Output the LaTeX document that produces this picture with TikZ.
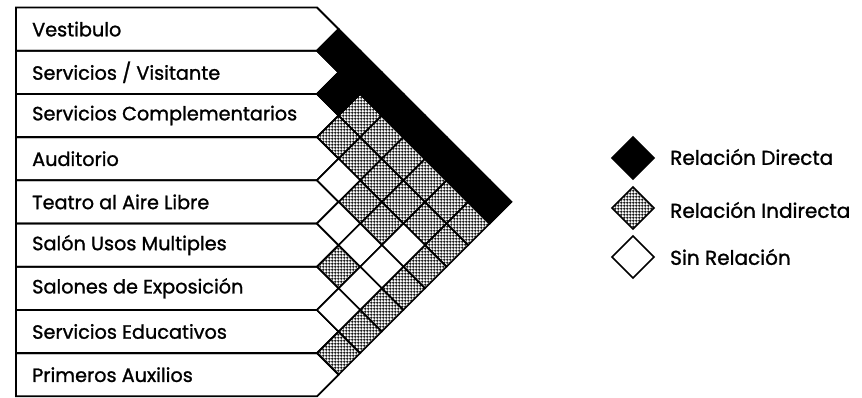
\documentclass[tikz,border=0pt]{standalone}
\usepackage{fontspec}
\setmainfont{Poppins}
\newfontfamily\dfont{Poppins}[FakeBold=1.2]
\usetikzlibrary{patterns.meta}
\tikzdeclarepattern{
  name=mygrid,
  type=uncolored,
  bounding box={(0,0) and (3.2pt,3.2pt)},
  tile size={(3.2pt,3.2pt)},
  code={
    \draw[line width=1pt] (0,1.6pt) -- (3.2pt,1.6pt) (1.6pt,0) -- (1.6pt,3.2pt);
  }
}
\newlength\wrow
\newlength\wleg
\begin{document}
\settowidth\wrow{\dfont\fontsize{10}{12}\selectfont Servicios Complementarios}
\settowidth\wleg{\dfont\fontsize{10}{12}\selectfont Relación Directa}
\pgfmathsetmacro\rowsize{10*265/\wrow}
\pgfmathsetmacro\legsize{10*163/\wleg}
\begin{tikzpicture}[x=1pt,y=-1pt,
  rowline/.style={draw=black,line width=1.8pt,line join=miter},
  cell/.style={draw=black,line width=1.6pt,line join=miter},
  dir/.style={cell,fill=black},
  ind/.style={cell,pattern=mygrid,pattern color=black},
  sinrel/.style={cell,fill=white},
  lbl/.style={anchor=west,inner sep=0pt,font=\dfont\fontsize{\rowsize}{\rowsize}\selectfont},
  leg/.style={anchor=west,inner sep=0pt,font=\dfont\fontsize{\legsize}{\legsize}\selectfont},
]
\useasboundingbox (0,0) rectangle (862,397);
% rows
\foreach \name [count=\i] in {Vestibulo,Servicios / Visitante,Servicios Complementarios,Auditorio,Teatro al Aire Libre,Salón Usos Multiples,Salones de Exposición,Servicios Educativos,Primeros Auxilios}{
  \pgfmathsetmacro\yt{7.5+43.2*(\i-1)}
  \pgfmathsetmacro\yb{\yt+43.2}
  \pgfmathsetmacro\ym{\yt+21.6}
  \draw[rowline] (16,\yt) -- (317,\yt) -- (338.6,\ym) -- (317,\yb) -- (16,\yb) -- cycle;
  \node[lbl] (r\i) at (32,\ym) {\name};
}
% hatched cells (all)
\foreach \i in {1,...,8}{
  \pgfmathtruncatemacro\ii{\i+1}
  \foreach \j in {\ii,...,9}{
    \pgfmathsetmacro\cx{317+21.6*(\j-\i)}
    \pgfmathsetmacro\cy{7.5+21.6*(\i+\j-1)}
    \draw[ind] (\cx-21.6,\cy) -- (\cx,\cy-21.6) -- (\cx+21.6,\cy) -- (\cx,\cy+21.6) -- cycle;
  }
}
% direct and no relation cells
\foreach \i/\j/\s in {1/2/dir,1/3/dir,1/4/dir,1/5/dir,1/6/dir,1/7/dir,1/8/dir,1/9/dir,2/3/dir,
  4/5/sinrel,5/6/sinrel,5/7/sinrel,4/8/sinrel,5/8/sinrel,6/8/sinrel,7/8/sinrel}{
  \pgfmathsetmacro\cx{317+21.6*(\j-\i)}
  \pgfmathsetmacro\cy{7.5+21.6*(\i+\j-1)}
  \draw[\s] (\cx-21.6,\cy) -- (\cx,\cy-21.6) -- (\cx+21.6,\cy) -- (\cx,\cy+21.6) -- cycle;
}
% legend
\draw[dir] (612,158) -- (633,137) -- (654,158) -- (633,179) -- cycle;
\node[leg] (ld) at (670,157) {Relación Directa};
\draw[ind] (612,208) -- (633,187) -- (654,208) -- (633,229) -- cycle;
\node[leg] (li) at (670,210) {Relación Indirecta};
\draw[sinrel] (612,257) -- (633,236) -- (654,257) -- (633,278) -- cycle;
\node[leg] (ls) at (670,257) {Sin Relación};
\end{tikzpicture}
\end{document}
